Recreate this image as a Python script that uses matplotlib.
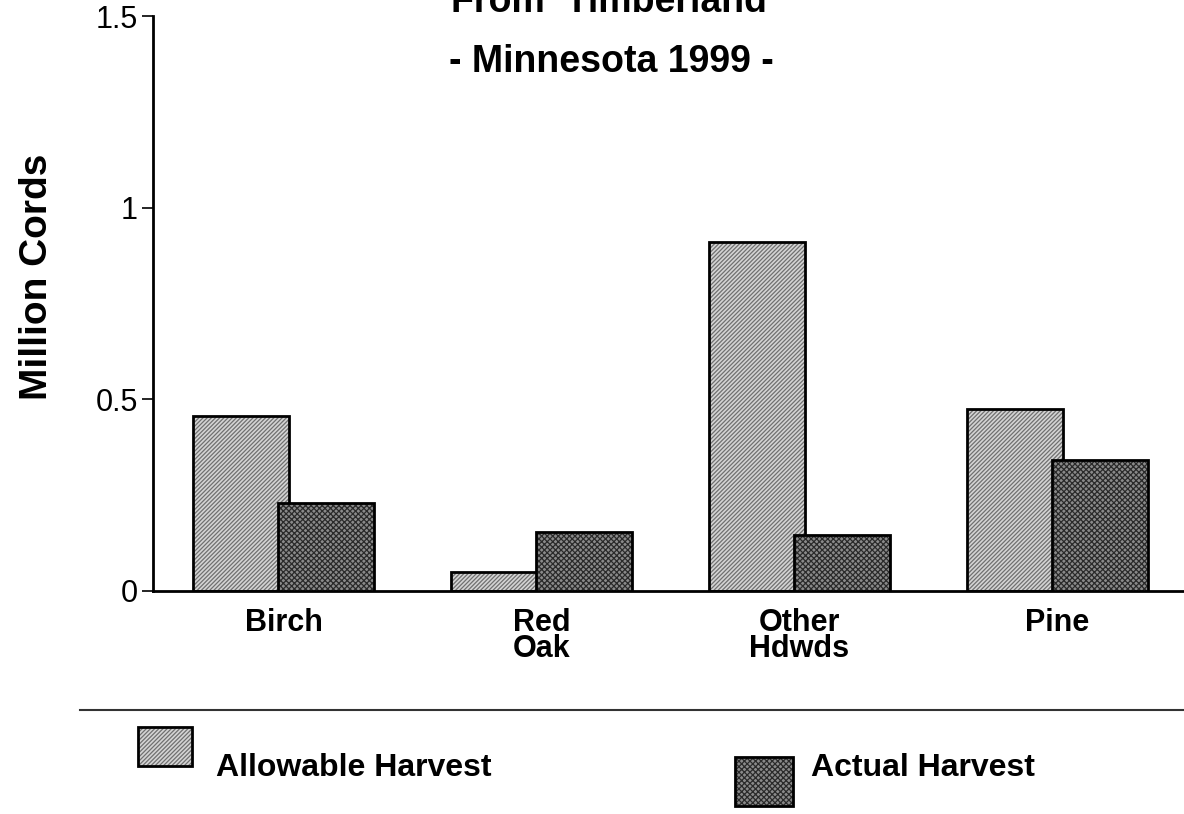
"""Allowable vs actual harvest from timberland, Minnesota 1999."""
import matplotlib.pyplot as plt
from matplotlib.lines import Line2D
from matplotlib.patches import Rectangle
import numpy as np

plt.rcParams["font.family"] = ["Liberation Sans", "DejaVu Sans"]
plt.rcParams["hatch.linewidth"] = 0.9

categories = ["Birch", "Red\nOak", "Other\nHdwds", "Pine"]
allowable = [0.457, 0.05, 0.911, 0.475]
actual = [0.23, 0.154, 0.146, 0.342]
yticks = [0, 0.5, 1, 1.5]
ytick_labels = ["0", "0.5", "1", "1.5"]

fig = plt.figure(figsize=(11.84, 8.14), dpi=100)
ax = fig.add_axes([0.1292, 0.274, 0.8708, 0.706])

x = np.arange(len(categories))
width = 0.372
off = 0.165
light, light_hatch = "#d4d4d4", "#707070"
dark, dark_hatch = "#8a8a8a", "#2a2a2a"

# fill + hatch first (hatch colour follows edgecolor), then black outlines
ax.bar(x - off, allowable, width, facecolor=light, edgecolor=light_hatch,
       hatch="////////", linewidth=0, zorder=2)
ax.bar(x - off, allowable, width, fill=False, edgecolor="black", linewidth=2, zorder=2)
ax.bar(x + off, actual, width, facecolor=dark, edgecolor=dark_hatch,
       hatch="xxxxxx", linewidth=0, zorder=3)
ax.bar(x + off, actual, width, fill=False, edgecolor="black", linewidth=2, zorder=3)

ax.set_xlim(-0.506, 3.49)
ax.set_ylim(0, 1.5)
ax.set_yticks(yticks)
ax.set_yticklabels(ytick_labels, fontsize=22)
ax.set_xticks(x)
ax.set_xticklabels(categories, fontsize=22, fontweight="bold", linespacing=0.85)
ax.tick_params(axis="x", length=0, pad=12)
ax.tick_params(axis="y", length=8, width=1.2, direction="out", pad=3)
for s in ["top", "right"]:
    ax.spines[s].set_visible(False)
ax.spines["left"].set_linewidth(2)
ax.spines["bottom"].set_linewidth(2)
fig.text(37 / 1184, 1 - 277 / 814, "Million Cords", rotation=90, ha="center",
         va="center", fontsize=28, fontweight="bold")

fig.text(0.514, 1.0 - 2 / 814, "From  Timberland", ha="center", va="center",
         fontsize=27, fontweight="bold")
fig.text(0.516, 1.0 - 62 / 814, "- Minnesota 1999 -", ha="center", va="center",
         fontsize=27, fontweight="bold")

# separator line and legend
fig.add_artist(Line2D([80 / 1184, 1.0], [1 - 710 / 814] * 2, color="#333333",
                      linewidth=1.5, transform=fig.transFigure))
legend_items = [
    ((138, 727, 54, 39), light, light_hatch, "////////", (216, 768), "Allowable Harvest"),
    ((735, 757, 58, 49), dark, dark_hatch, "xxxxxx", (811, 768), "Actual Harvest"),
]
for (px, py, pw, ph), fc, hc, hatch, (tx, ty), label in legend_items:
    box = (px / 1184, 1 - (py + ph) / 814)
    fig.add_artist(Rectangle(box, pw / 1184, ph / 814, transform=fig.transFigure,
                             facecolor=fc, edgecolor=hc, hatch=hatch, linewidth=0))
    fig.add_artist(Rectangle(box, pw / 1184, ph / 814, transform=fig.transFigure,
                             fill=False, edgecolor="black", linewidth=2))
    fig.text(tx / 1184, 1 - ty / 814, label, ha="left", va="center",
             fontsize=23, fontweight="bold")

fig.savefig("out.png", dpi=100)
